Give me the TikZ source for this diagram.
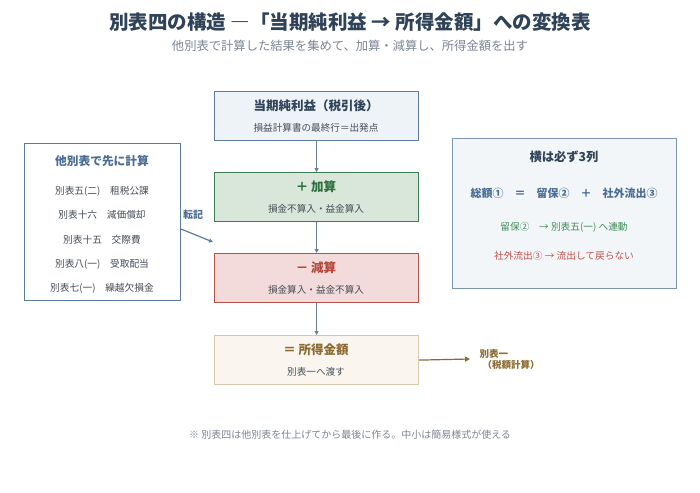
\documentclass[tikz,border=0pt]{standalone}
\usepackage{fontspec}
\setmainfont{Noto Sans CJK JP}
\usetikzlibrary{arrows.meta}
\definecolor{ttl}{HTML}{2F4258}
\definecolor{sub}{HTML}{7A8694}
\definecolor{bbd}{HTML}{5E7C9B}
\definecolor{bfl}{HTML}{EEF3F8}
\definecolor{gbd}{HTML}{3C7D52}
\definecolor{gfl}{HTML}{D9E7DB}
\definecolor{gtx}{HTML}{2E7040}
\definecolor{rbd}{HTML}{B5534A}
\definecolor{rfl}{HTML}{F2DBDA}
\definecolor{rtx}{HTML}{B5453A}
\definecolor{ybd}{HTML}{D8C8AA}
\definecolor{yfl}{HTML}{FAF6EF}
\definecolor{ytx}{HTML}{8A6A30}
\definecolor{con}{HTML}{6B7F96}
\definecolor{lbd}{HTML}{5A7CA0}
\definecolor{ltx}{HTML}{4A6D95}
\definecolor{rfl2}{HTML}{F3F6F9}
\definecolor{rbd2}{HTML}{7D96B0}
\definecolor{gtx2}{HTML}{3F8A55}
\definecolor{rtx2}{HTML}{C0504A}
\definecolor{body}{HTML}{444C55}
\tikzset{
  x=1pt,y=-1pt,
  flow/.style={draw,line width=1.2pt,minimum width=204pt,minimum height=49pt,anchor=north west,inner sep=0pt},
  btitle/.style={font=\fontsize{12.5}{14}\selectfont\bfseries},
  bsub/.style={font=\fontsize{9.6}{11}\selectfont,text=body},
  conn/.style={draw=con,line width=1pt,-{Triangle[length=4pt,width=4pt]}},
  ltxt/.style={font=\fontsize{9.7}{11}\selectfont,text=body},
}
\begin{document}
\begin{tikzpicture}
\useasboundingbox[fill=white] (0,0) rectangle (700,492);
\node[text=ttl,font=\fontsize{19.5}{22}\selectfont\bfseries] (title) at (350,22) {別表四の構造 ―「当期純利益 → 所得金額」への変換表};
\node[text=sub,font=\fontsize{12.3}{14}\selectfont] (subtitle) at (350,46) {他別表で計算した結果を集めて、加算・減算し、所得金額を出す};
% flow boxes
\node[flow,draw=bbd,fill=bfl] (b1) at (214,91) {};
\node[btitle,text=ttl] (b1t) at (316,106) {当期純利益（税引後）};
\node[bsub] (b1s) at (316,128) {損益計算書の最終行＝出発点};
\node[flow,draw=gbd,fill=gfl] (b2) at (214,172) {};
\node[btitle,text=gtx] (b2t) at (316,187) {＋ 加算};
\node[bsub] (b2s) at (316,209) {損金不算入・益金算入};
\node[flow,draw=rbd,fill=rfl] (b3) at (214,253) {};
\node[btitle,text=rtx] (b3t) at (316,268) {－ 減算};
\node[bsub] (b3s) at (316,290) {損金算入・益金不算入};
\node[flow,draw=ybd,fill=yfl] (b4) at (214,335) {};
\node[btitle,text=ytx] (b4t) at (316,350) {＝ 所得金額};
\node[bsub] (b4s) at (316,372) {別表一へ渡す};
\draw[conn] (b1.south) -- (b2.north);
\draw[conn] (b2.south) -- (b3.north);
\draw[conn] (b3.south) -- (b4.north);
% output
\node[text=ytx,font=\fontsize{9.5}{11}\selectfont\bfseries,align=left,anchor=west] (out) at (476,359) {別表一\\\hspace*{3pt}（税額計算）};
\draw[draw=ytx,line width=1.2pt,-{Triangle[length=5pt,width=5pt]}] (b4.east) -- ([xshift=-6pt]out.west);
% left box
\node[draw=lbd,line width=1.2pt,fill=white,minimum width=156pt,minimum height=157pt,anchor=north west,inner sep=0pt] (lb) at (24,143) {};
\node[text=ltx,font=\fontsize{11.7}{13}\selectfont\bfseries] (lbt) at (102,161) {他別表で先に計算};
\node[ltxt] (l1) at (102,191) {別表五(二)\quad 租税公課};
\node[ltxt] (l2) at (102,215) {別表十六\quad 減価償却};
\node[ltxt] (l3) at (102,240) {別表十五\quad 交際費};
\node[ltxt] (l4) at (102,264) {別表八(一)\quad 受取配当};
\node[ltxt] (l5) at (102,288) {別表七(一)\quad 繰越欠損金};
\coordinate (tk) at (213,242);
\draw[draw=lbd,line width=1.2pt,-{Triangle[length=4pt,width=4pt]}] ([yshift=-7pt]lb.east) -- (tk);
\node[text=ltx,font=\fontsize{10}{11}\selectfont\bfseries] (tkl) at (193,215) {転記};
% right box
\node[draw=rbd2,line width=1.2pt,fill=rfl2,minimum width=224pt,minimum height=150pt,anchor=north west,inner sep=0pt] (rb) at (452,138) {};
\node[text=ttl,font=\fontsize{12.3}{14}\selectfont\bfseries] (rbt) at (564,157) {横は必ず3列};
\node[text=ltx,font=\fontsize{11}{13}\selectfont\bfseries] (req) at (564,193) {総額①\quad ＝\quad 留保②\quad ＋\quad 社外流出③};
\node[text=gtx2,font=\fontsize{9.7}{11}\selectfont] (rg) at (564,227) {留保②\quad → 別表五(一) へ連動};
\node[text=rtx2,font=\fontsize{9.7}{11}\selectfont] (rr) at (564,256) {社外流出③ → 流出して戻らない};
% footnote
\node[text=sub,font=\fontsize{10}{11}\selectfont] (foot) at (350,435) {※ 別表四は他別表を仕上げてから最後に作る。中小は簡易様式が使える};
\end{tikzpicture}
\end{document}
